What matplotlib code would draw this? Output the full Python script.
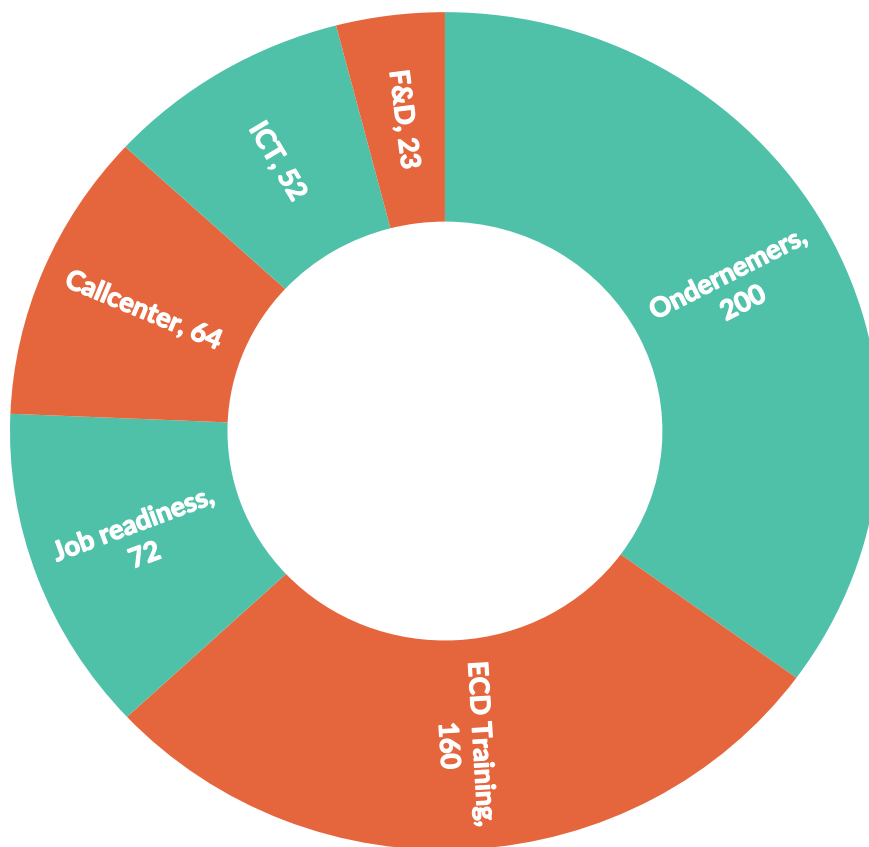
import numpy as np
import matplotlib.pyplot as plt
import matplotlib.patheffects as pe

labels = ["Ondernemers", "ECD Training", "Job readiness", "Callcenter", "ICT", "F&D"]
values = [200, 160, 72, 64, 52, 23]
colors = ["#4FC1A9", "#E5663D", "#4FC1A9", "#E5663D", "#4FC1A9", "#E5663D"]
wrap = [True, True, True, False, False, False]

fig = plt.figure(figsize=(8.69, 8.47), dpi=100)
ax = fig.add_axes([0, 0, 1, 1])

texts_in = []
for lab, v, w in zip(labels, values, wrap):
    texts_in.append(f"{lab},\n{v}" if w else f"{lab}, {v}")

wedges, texts = ax.pie(values, colors=colors, startangle=90, counterclock=False,
                       labels=texts_in, labeldistance=0.75,
                       wedgeprops=dict(width=0.5, linewidth=0))

for wdg, t in zip(wedges, texts):
    mid = (wdg.theta1 + wdg.theta2) / 2.0
    rot = (mid + 180) % 360 - 180
    if rot > 90:
        rot -= 180
    elif rot < -90:
        rot += 180
    t.set_rotation(rot)
    t.set_rotation_mode("anchor")
    t.set_ha("center")
    t.set_va("center")
    t.set_multialignment("center")
    t.set_color("white")
    t.set_fontfamily(["Lato", "DejaVu Sans"])
    t.set_fontweight("bold")
    t.set_fontsize(19.5)
    t.set_linespacing(1.45)
    # fake a heavier weight
    t.set_path_effects([pe.withStroke(linewidth=0.9, foreground="white")])

ax.set_aspect("auto")
ax.set_xlim(-1.023, 0.975)
ax.set_ylim(-0.993, 1.029)
ax.axis("off")

fig.savefig("out.png", dpi=100, facecolor="white")
